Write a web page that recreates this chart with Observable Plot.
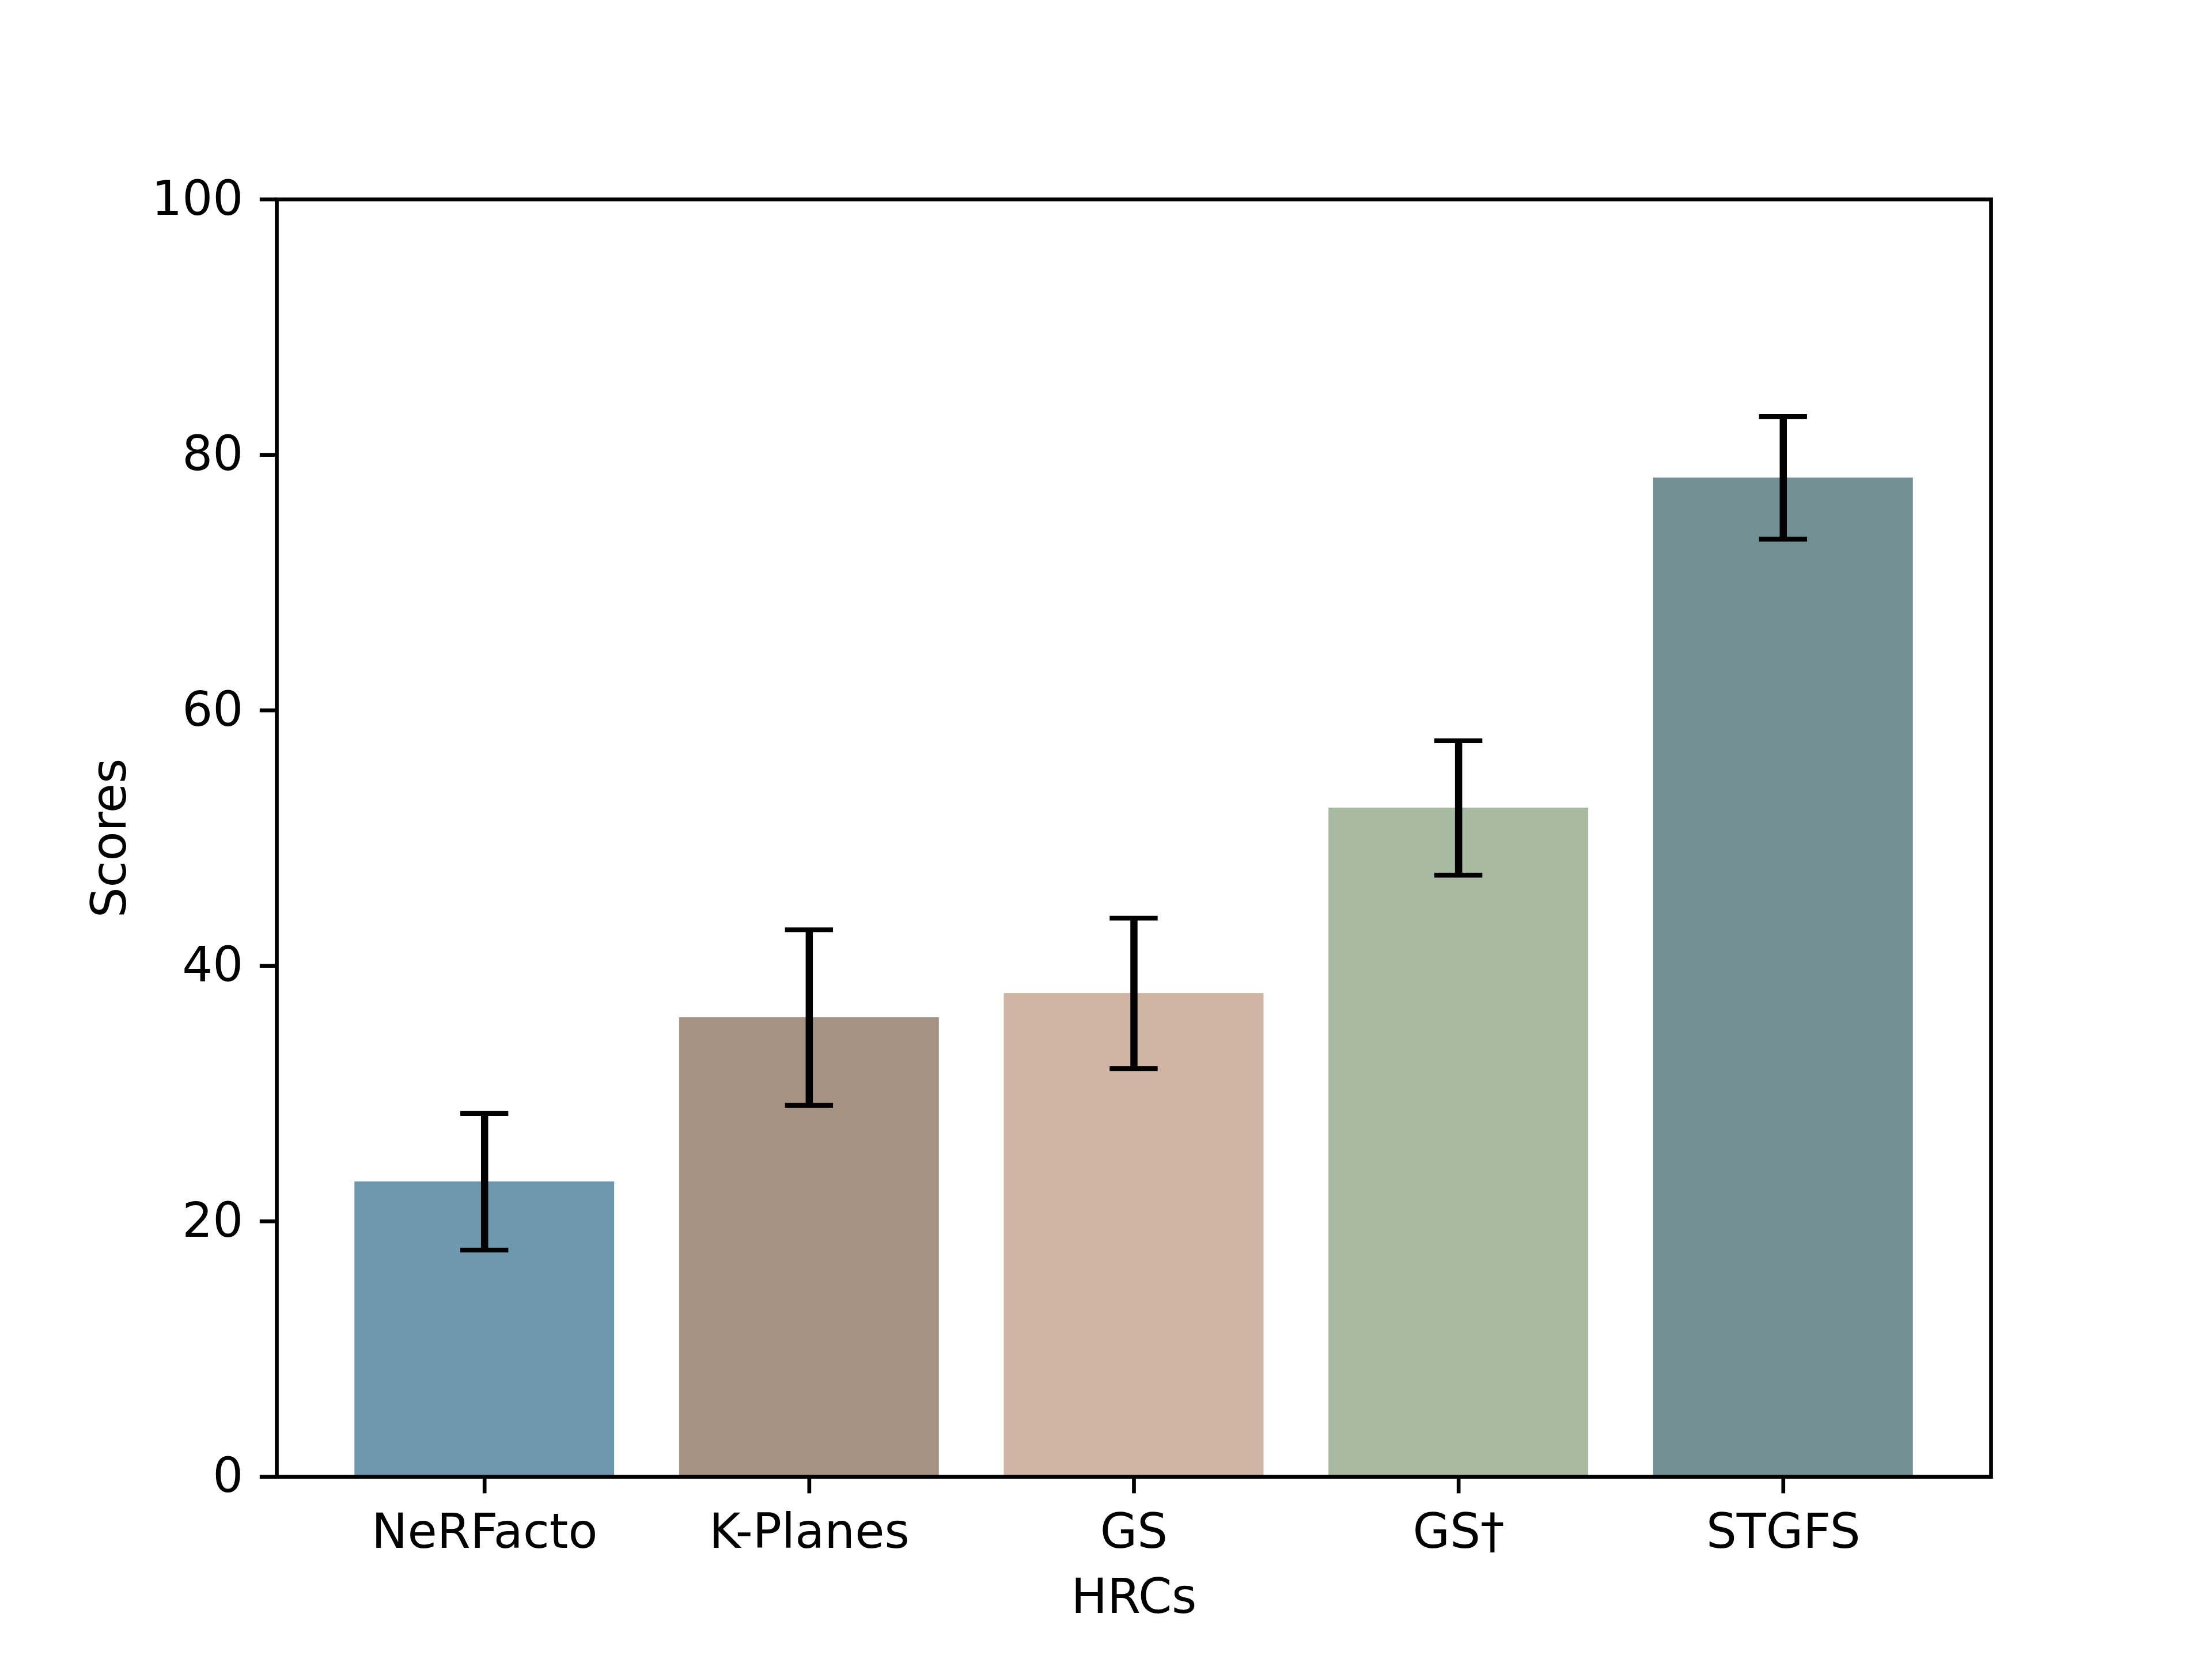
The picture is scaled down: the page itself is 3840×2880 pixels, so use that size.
<!DOCTYPE html>
<html>
<head>
<meta charset="utf-8">
<script src="https://cdn.jsdelivr.net/npm/d3@7"></script>
<script src="https://cdn.jsdelivr.net/npm/@observablehq/plot@0.6"></script>
<style>html,body{margin:0;padding:0;background:#fff}</style>
</head>
<body>
<div id="chart"></div>
<script>
// ---- data ----
const categories = ["NeRFacto", "K-Planes", "GS", "GS\u2020", "STGFS"];
const scores = [23.1, 35.95, 37.84, 52.36, 78.2];
const errors = [5.35, 6.87, 5.89, 5.26, 4.8];
const yTicks = [0, 20, 40, 60, 80, 100];
const colors = ["#6e98ad", "#a59283", "#d0b5a4", "#a8baa1", "#728f93"];

// ---- layout (matplotlib 6.4x4.8in @600dpi) ----
const PT = 600 / 72;
const W = 3840, H = 2880;
const mL = 480, mR = 384, mT = 345.6, mB = 316.8;
const xDomain = [-0.64, categories.length - 1 + 0.64];
const barHalf = 0.4;
const capHalf = (5 * PT) * (xDomain[1] - xDomain[0]) / (W - mL - mR);

const rows = categories.map((c, i) => ({i, c, v: scores[i], e: errors[i], color: colors[i]}));

const chart = Plot.plot({
  width: W, height: H,
  marginLeft: mL, marginRight: mR, marginTop: mT, marginBottom: mB,
  style: {fontFamily: "DejaVu Sans", fontSize: "83.33px", background: "white", color: "black"},
  x: {domain: xDomain},
  y: {domain: [0, 100]},
  color: {type: "identity"},
  marks: [
    Plot.rect(rows, {x1: d => d.i - barHalf, x2: d => d.i + barHalf, y1: 0, y2: "v", fill: "color"}),
    Plot.ruleX(rows, {x: "i", y1: d => d.v - d.e, y2: d => d.v + d.e, stroke: "black", strokeWidth: 1.5 * PT}),
    Plot.ruleY(rows, {y: d => d.v + d.e, x1: d => d.i - capHalf, x2: d => d.i + capHalf, stroke: "black", strokeWidth: PT}),
    Plot.ruleY(rows, {y: d => d.v - d.e, x1: d => d.i - capHalf, x2: d => d.i + capHalf, stroke: "black", strokeWidth: PT}),
    Plot.frame({stroke: "black", strokeWidth: 0.8 * PT}),
    Plot.axisX({
      ticks: d3.range(categories.length), tickFormat: i => categories[i],
      tickSize: 3.5 * PT, tickPadding: 35, strokeWidth: 0.8 * PT,
      label: "HRCs", labelAnchor: "center", labelOffset: 236, labelArrow: "none"
    }),
    Plot.axisY({
      ticks: yTicks, tickFormat: d => String(d),
      tickSize: 3.5 * PT, tickPadding: 29, strokeWidth: 0.8 * PT,
      label: "Scores", labelAnchor: "center", labelOffset: 322, labelArrow: "none"
    })
  ]
});
document.getElementById("chart").appendChild(chart);
</script>
</body>
</html>
